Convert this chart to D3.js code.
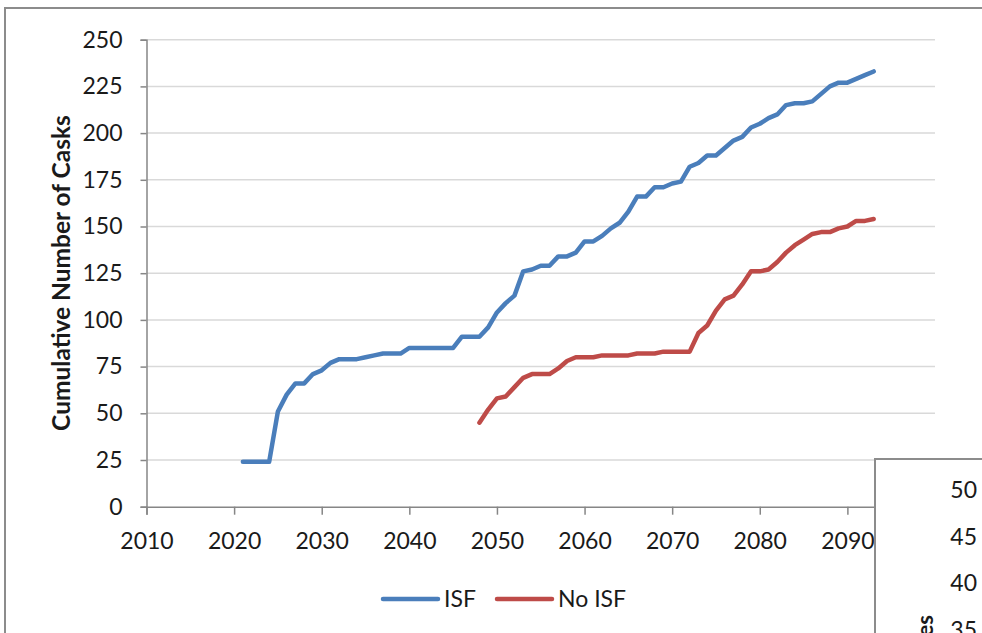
<!DOCTYPE html>
<html>
<head>
<meta charset="utf-8">
<script src="https://cdn.jsdelivr.net/npm/d3@7"></script>
<style>
  html, body { margin: 0; padding: 0; background: #fff; }
  svg { display: block; }
  text { font-family: Lato, "Open Sans", sans-serif; fill: #1a1a1a; }
</style>
</head>
<body>
<svg id="chart" width="982" height="633"></svg>
<script>
// ---- data ----
const isfYears = d3.range(2021, 2094);
const isfValues = [24, 24, 24, 24, 51, 60, 66, 66, 71, 73,
  77, 79, 79, 79, 80, 81, 82, 82, 82, 85,
  85, 85, 85, 85, 85, 91, 91, 91, 96, 104,
  109, 113, 126, 127, 129, 129, 134, 134, 136, 142,
  142, 145, 149, 152, 158, 166, 166, 171, 171, 173,
  174, 182, 184, 188, 188, 192, 196, 198, 203, 205,
  208, 210, 215, 216, 216, 217, 221, 225, 227, 227,
  229, 231, 233];
const noIsfYears = d3.range(2048, 2094);
const noIsfValues = [45, 52, 58, 59, 64, 69, 71, 71, 71, 74,
  78, 80, 80, 80, 81, 81, 81, 81, 82, 82,
  82, 83, 83, 83, 83, 93, 97, 105, 111, 113,
  119, 126, 126, 127, 131, 136, 140, 143, 146, 147,
  147, 149, 150, 153, 153, 154];
const xTicks = [2010, 2020, 2030, 2040, 2050, 2060, 2070, 2080, 2090];
const yTicks = [0, 25, 50, 75, 100, 125, 150, 175, 200, 225, 250];
const seriesNames = ["ISF", "No ISF"];
const seriesColors = ["#4A7EBB", "#BE4B48"];
const overlayTicks = ["50", "45", "40", "35"];

const svg = d3.select("#chart");

// outer frame
svg.append("path").attr("d", "M5,640V8H990")
  .attr("fill", "none").attr("stroke", "#8c8c8c").attr("stroke-width", 2);

const x = d3.scaleLinear().domain([2010, 2100]).range([146.5, 935]);
const y = d3.scaleLinear().domain([0, 250]).range([506.7, 39.7]);

// gridlines
svg.append("g").selectAll("line").data(yTicks.filter(d => d > 0)).join("line")
  .attr("x1", x(2010)).attr("x2", x(2100))
  .attr("y1", d => y(d)).attr("y2", d => y(d))
  .attr("stroke", "#d9d9d9").attr("stroke-width", 1.5);

// y axis
const yAxis = svg.append("g").attr("transform", `translate(${x(2010)},0)`)
  .call(d3.axisLeft(y).tickValues(yTicks).tickSize(6).tickPadding(18));
yAxis.select(".domain").attr("stroke", "#868686").attr("stroke-width", 1.5);
yAxis.selectAll(".tick line").attr("stroke", "#868686").attr("stroke-width", 1.5);
yAxis.selectAll(".tick text").attr("font-size", 23).attr("font-family", "Lato").attr("fill", "#1a1a1a");

// x axis
const xAxis = svg.append("g").attr("transform", `translate(0,${y(0)})`)
  .call(d3.axisBottom(x).tickValues(xTicks).tickFormat(d3.format("d")).tickSize(8).tickPadding(18));
xAxis.select(".domain").attr("stroke", "#868686").attr("stroke-width", 1.5);
xAxis.selectAll(".tick line").attr("stroke", "#868686").attr("stroke-width", 1.5);
xAxis.selectAll(".tick text").attr("font-size", 23).attr("font-family", "Lato").attr("fill", "#1a1a1a");

// y title
svg.append("text")
  .attr("transform", "translate(70,273) rotate(-90)")
  .attr("text-anchor", "middle")
  .attr("font-size", 24.5).attr("font-weight", "bold")
  .text("Cumulative Number of Casks");

// lines
const line = d3.line().x(d => x(d[0])).y(d => y(d[1]));
const series = [
  isfYears.map((yr, i) => [yr, isfValues[i]]),
  noIsfYears.map((yr, i) => [yr, noIsfValues[i]])
];
series.forEach((s, i) => {
  svg.append("path").datum(s).attr("d", line)
    .attr("fill", "none").attr("stroke", seriesColors[i])
    .attr("stroke-width", 4.5).attr("stroke-linejoin", "round").attr("stroke-linecap", "round");
});

// legend
const legendX = [383, 497];
const legend = svg.append("g");
seriesNames.forEach((name, i) => {
  legend.append("line").attr("x1", legendX[i]).attr("x2", legendX[i] + 55)
    .attr("y1", 599).attr("y2", 599)
    .attr("stroke", seriesColors[i]).attr("stroke-width", 4.5).attr("stroke-linecap", "round");
  legend.append("text").attr("x", legendX[i] + 61).attr("y", 599).attr("dy", "0.35em")
    .attr("font-size", 23).text(name);
});

// overlapping chart fragment at bottom right
const ov = svg.append("g");
ov.append("rect").attr("x", 875).attr("y", 459).attr("width", 200).attr("height", 200)
  .attr("fill", "#fff").attr("stroke", "#8c8c8c").attr("stroke-width", 2);
const ovY = d3.scaleLinear().domain([50, 35]).range([490, 630]);
ov.selectAll("text.ot").data(overlayTicks).join("text").attr("class", "ot")
  .attr("x", 977).attr("y", d => ovY(+d)).attr("dy", "0.35em")
  .attr("text-anchor", "end").attr("font-size", 23).text(d => d);
ov.append("text").attr("transform", "translate(933,615) rotate(-90)")
  .attr("text-anchor", "end").attr("font-size", 22).attr("font-weight", "bold").text("es");
</script>
</body>
</html>
